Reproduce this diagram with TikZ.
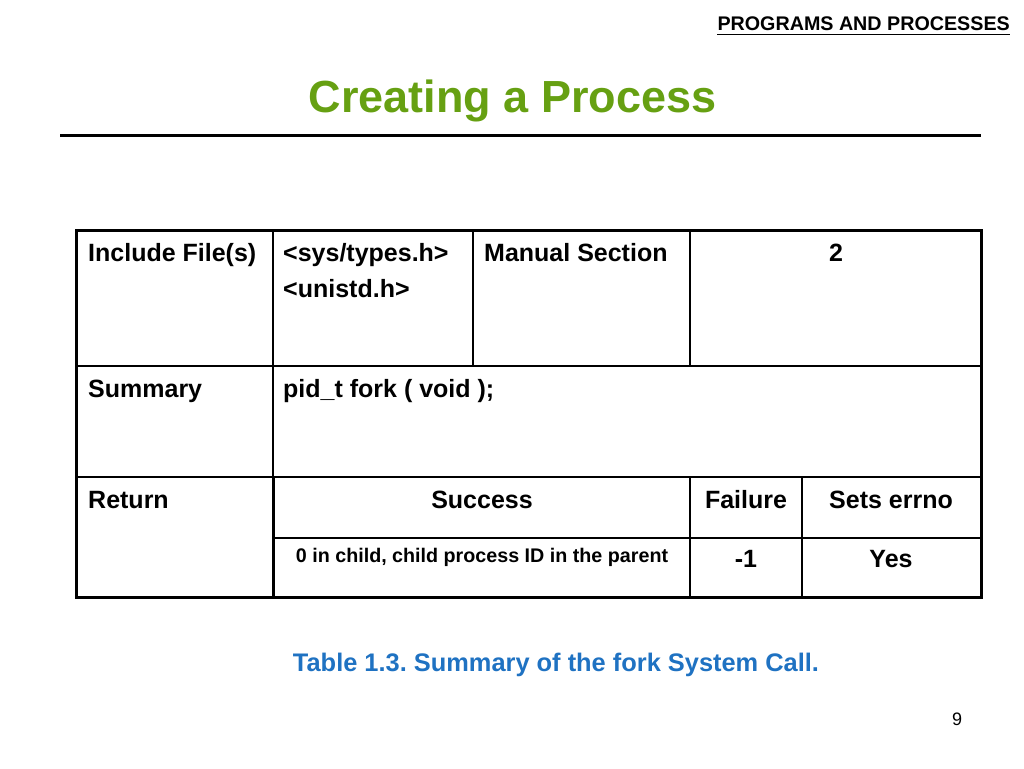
\documentclass[tikz,border=0pt]{standalone}
\usepackage{fontspec}
\setmainfont{Liberation Sans}
\usepackage{tikz}
\frenchspacing

\definecolor{titlegreen}{HTML}{66A012}
\definecolor{captionblue}{HTML}{1F72C2}

\tikzset{
  txt/.style={inner sep=0pt, font=\fontsize{25}{30}\selectfont\bfseries},
  cellleft/.style={txt, anchor=base west},
  cellmid/.style={txt, anchor=base},
  outer/.style={line width=3pt},
  inner/.style={line width=1.8pt},
  thin/.style={line width=1.2pt},
}

\begin{document}
\begin{tikzpicture}[x=1pt,y=-1pt]
    \useasboundingbox (0,0) rectangle (1024,768);

    % header and title
    \node[txt, anchor=base east, font=\fontsize{19.7}{24}\selectfont\bfseries] (head) at (1010,31) {PROGRAMS AND PROCESSES};
    \draw[line width=1.2pt] ([yshift=-3.5pt]head.south west) -- ([yshift=-3.5pt]head.south east);
    \node[txt, anchor=base, text=titlegreen, font=\fontsize{45}{54}\selectfont\bfseries] (title) at (512.5,112) {Creating a Process};
    \coordinate (ruleL) at (60,135);
    \coordinate (ruleR) at (981,135);
    \draw[line width=3pt] (ruleL) -- (ruleR);

    % table grid
    \draw[inner] (76,366) -- (981,366); % row lines
    \draw[inner] (76,477) -- (981,477);
    \draw[thin] (273,538) -- (981,538);
    \draw[inner] (273,230) -- (273,477); % column lines
    \draw[outer] (273,477) -- (273,597);
    \draw[inner] (473,230) -- (473,366);
    \draw[inner] (690,230) -- (690,366);
    \draw[thin] (690,477) -- (690,597);
    \draw[thin] (802,477) -- (802,597);
    \draw[outer] (76,230) rectangle (981,597);

    % first row
    \node[cellleft] (incl) at (88,261) {Include File(s)};
    \node[cellleft] (types) at (283,261) {<sys/types.h>};
    \node[cellleft] (unistd) at (283,297) {<unistd.h>};
    \node[cellleft] (manual) at (484,261) {Manual Section};
    \node[cellmid] (sect) at (836,261) {2};

    % second row
    \node[cellleft] (summ) at (88,397) {Summary};
    \node[cellleft] (proto) at (283,397) {pid\_t fork ( void );};

    % third row
    \node[cellleft] (ret) at (88,508) {Return};
    \node[cellmid] (succ) at (482,508) {Success};
    \node[cellmid] (fail) at (746,508) {Failure};
    \node[cellmid] (errno) at (891,508) {Sets errno};
    \node[cellmid, font=\fontsize{19.7}{24}\selectfont\bfseries] (succval) at (482,562) {0 in child, child process ID in the parent};
    \node[cellmid] (failval) at (746,567) {-1};
    \node[cellmid] (errnoval) at (891,567) {Yes};

    % caption and page number
    \node[cellmid, text=captionblue, font=\fontsize{25.4}{30}\selectfont\bfseries] (caption) at (556,671) {Table 1.3. Summary of the fork System Call.};
    \node[txt, anchor=base, font=\fontsize{18}{22}\selectfont] (page) at (957,725) {9};
\end{tikzpicture}
\end{document}
